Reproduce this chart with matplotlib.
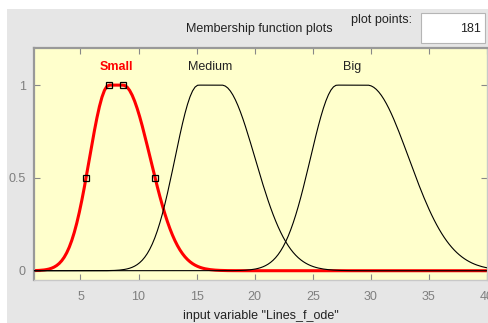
import numpy as np
import matplotlib.pyplot as plt
from matplotlib.patches import Rectangle

# Input variable "Lines_f_ode": range and sampling
x_range = (1, 40)
n_points = 181

# Two-sided Gaussian membership functions: [sigma1, c1, sigma2, c2]
mf_names = ["Small", "Medium", "Big"]
small_params = [1.69, 7.47, 2.34, 8.67]
medium_params = [2.02, 15.16, 2.85, 17.18]
big_params = [2.30, 27.10, 3.57, 29.70]

x_ticks = [5, 10, 15, 20, 25, 30, 35, 40]
y_ticks = [0, 0.5, 1]
y_ticklabels = ["0", "0.5", "1"]


def gauss2mf(x, p):
    s1, c1, s2, c2 = p
    y = np.ones_like(x)
    left = x < c1
    right = x > c2
    y[left] = np.exp(-(x[left] - c1) ** 2 / (2 * s1 ** 2))
    y[right] = np.exp(-(x[right] - c2) ** 2 / (2 * s2 ** 2))
    return y


plt.rcParams['font.family'] = ['Liberation Sans', 'DejaVu Sans']

fig = plt.figure(figsize=(4.89, 3.23), dpi=100, facecolor='white')
W, H = 489, 323

# grey panel behind the plot
fig.patches.append(Rectangle((7 / W, 0), 1, 1 - 9 / H, transform=fig.transFigure,
                             facecolor='#e6e6e6', edgecolor='none', zorder=-5))

# header texts and the "plot points" field
fig.text(259 / W, 1 - 29 / H, "Membership function plots", ha='center', va='center',
         fontsize=9, color='#222222')
fig.text(382 / W, 1 - 20 / H, "plot points:", ha='center', va='center',
         fontsize=9, color='#222222')
fig.patches.append(Rectangle((421 / W, 1 - 43 / H), 64 / W, 30 / H, transform=fig.transFigure,
                             facecolor='white', edgecolor='#b5b5b5', lw=0.8, zorder=-4))
fig.text(481 / W, 1 - 29 / H, str(n_points), ha='right', va='center',
         fontsize=9, color='#222222')

ax = fig.add_axes([34 / W, 1 - 280 / H, (487 - 34) / W, (280 - 48) / H])
ax.set_zorder(5)
ax.set_facecolor('#ffffcc')

x = np.linspace(x_range[0], x_range[1], n_points)
y_small = gauss2mf(x, small_params)
y_medium = gauss2mf(x, medium_params)
y_big = gauss2mf(x, big_params)

ax.plot(x, y_small, color='red', lw=2.2, zorder=2)
ax.plot(x, y_medium, color='black', lw=0.8, zorder=3)
ax.plot(x, y_big, color='black', lw=0.8, zorder=3)

# handles of the selected (Small) function
s1, c1, s2, c2 = small_params
k = np.sqrt(2 * np.log(2))
hx = [c1 - k * s1, c1, c2, c2 + k * s2]
hy = [0.5, 1, 1, 0.5]
ax.plot(hx, hy, ls='none', marker='s', ms=5, mfc='none', mec='black', mew=0.9, zorder=4)

# function names above each plateau
label_y = 1.1
for name, p, col, wt in [("Small", small_params, 'red', 'bold'),
                         ("Medium", medium_params, '#222222', 'normal'),
                         ("Big", big_params, '#222222', 'normal')]:
    ax.text((p[1] + p[3]) / 2, label_y, name, ha='center', va='center',
            fontsize=9, color=col, fontweight=wt)

ax.set_xlim(*x_range)
ax.set_ylim(-0.05, 1.2)
ax.set_xticks(x_ticks)
ax.set_yticks(y_ticks)
ax.set_yticklabels(y_ticklabels)
ax.tick_params(axis='both', direction='in', length=4, width=0.8, color='#888888',
               labelcolor='#7f7f7f', labelsize=9, top=True, right=True,
               labeltop=False, labelright=False)
ax.tick_params(axis='x', pad=8)
ax.tick_params(axis='y', pad=6)

for side in ['left', 'top']:
    ax.spines[side].set_color('#999999')
    ax.spines[side].set_linewidth(1.6)
for side in ['right', 'bottom']:
    ax.spines[side].set_color('#c8c8c8')
    ax.spines[side].set_linewidth(1.0)

ax.set_xlabel('input variable "Lines_f_ode"', fontsize=9, color='#222222', labelpad=5)

fig.savefig('out.png', dpi=100, facecolor=fig.get_facecolor())
